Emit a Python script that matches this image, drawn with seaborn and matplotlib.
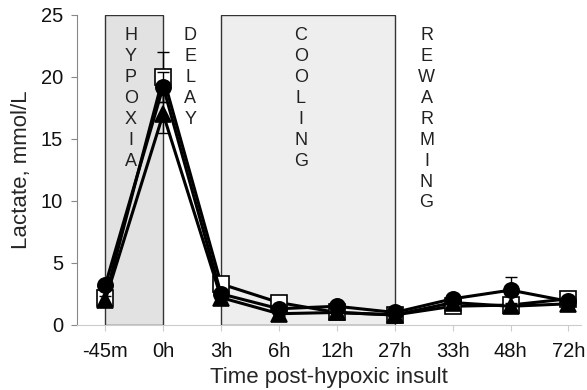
import matplotlib
matplotlib.use("Agg")
import matplotlib.pyplot as plt
import matplotlib.patches as mpatches
import seaborn as sns
import pandas as pd

# time points (categorical axis)
times = ["-45m", "0h", "3h", "6h", "12h", "27h", "33h", "48h", "72h"]

# mean lactate per group
circle_vals = [3.2, 19.2, 2.5, 1.3, 1.5, 1.0, 2.1, 2.8, 1.9]
square_vals = [2.2, 20.0, 3.3, 1.8, 1.0, 0.8, 1.5, 1.6, 2.1]
triangle_vals = [2.0, 17.0, 2.2, 0.9, 1.0, 0.8, 1.8, 1.5, 1.7]

# error (SEM) per group
circle_err = [0.3, 1.2, 0.4, 0.3, 0.3, 0.2, 0.4, 1.1, 0.3]
square_err = [0.3, 2.0, 0.6, 0.4, 0.2, 0.2, 0.3, 0.3, 0.3]
triangle_err = [0.3, 1.5, 0.4, 0.2, 0.2, 0.2, 0.3, 0.3, 0.2]

groups = ["square", "circle", "triangle"]
vals = {"square": square_vals, "circle": circle_vals, "triangle": triangle_vals}
errs = {"square": square_err, "circle": circle_err, "triangle": triangle_err}

rows = []
for g in groups:
    for i, t in enumerate(times):
        rows.append({"group": g, "t": i, "lactate": vals[g][i], "err": errs[g][i]})
df = pd.DataFrame(rows)

sns.set_style("white")
plt.rcParams["font.family"] = ["Liberation Sans", "DejaVu Sans"]

fig, ax = plt.subplots(figsize=(5.87, 3.9), dpi=100)
fig.subplots_adjust(left=0.131, right=0.99, top=0.962, bottom=0.167)

# phase shading
ax.add_patch(mpatches.Rectangle((0, 0), 1, 25, facecolor="#e2e2e2",
                                edgecolor="#333333", lw=1, zorder=0))
ax.add_patch(mpatches.Rectangle((2, 0), 3, 25, facecolor="#eeeeee",
                                edgecolor="#333333", lw=1, zorder=0))

styles = {
    "square": dict(marker="s", mfc="white", mec="black", ms=11),
    "circle": dict(marker="o", mfc="black", mec="black", ms=11),
    "triangle": dict(marker="^", mfc="black", mec="black", ms=12),
}

for k, g in enumerate(groups):
    sub = df[df["group"] == g]
    ax.errorbar(sub["t"], sub["lactate"], yerr=sub["err"], fmt="none",
                ecolor="black", elinewidth=1, capsize=4, zorder=2 + k)
    sns.lineplot(data=sub, x="t", y="lactate", ax=ax, color="black", lw=2.2,
                 marker=styles[g]["marker"], markersize=styles[g]["ms"],
                 markerfacecolor=styles[g]["mfc"], markeredgecolor=styles[g]["mec"],
                 markeredgewidth=1.2, zorder=3 + k, legend=False)

# phase labels
phase_labels = [("HYPOXIA", 0.44), ("DELAY", 1.47), ("COOLING", 3.38), ("REWARMING", 5.55)]
for word, xpos in phase_labels:
    ax.text(xpos, 24.0, "\n".join(word), ha="center", va="top", fontsize=13,
            linespacing=1.3, color="#222222", zorder=6)

ax.set_xlim(-0.49, 8.22)
ax.set_ylim(0, 25)
ax.set_xticks(range(len(times)))
ax.set_xticklabels(times)
ax.set_yticks([0, 5, 10, 15, 20, 25])
ax.tick_params(axis="both", labelsize=14.5, colors="#111111")
ax.tick_params(axis="x", bottom=True, length=4, color="#cccccc", pad=8)
ax.tick_params(axis="y", left=True, length=4, color="#888888", pad=6)
ax.set_xlabel("Time post-hypoxic insult", fontsize=16, labelpad=5)
ax.set_ylabel("Lactate, mmol/L", fontsize=16, labelpad=6)

for s in ["top", "right"]:
    ax.spines[s].set_visible(False)
ax.spines["left"].set_color("#888888")
ax.spines["bottom"].set_color("#cccccc")

fig.savefig("out.png", dpi=100)
